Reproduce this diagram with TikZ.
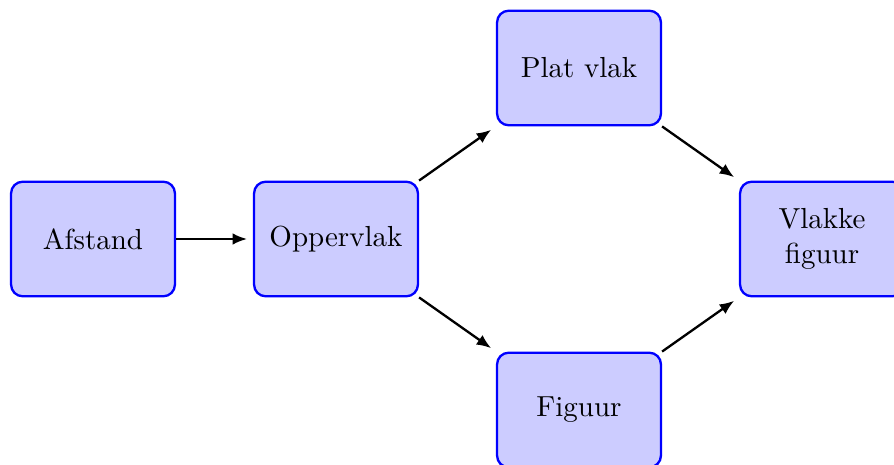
\documentclass[tikz,border=0pt]{standalone}
\usetikzlibrary{arrows.meta}
\begin{document}
\begin{tikzpicture}[x=0.3448pt,y=-0.3448pt,
  box/.style={draw=blue, fill=blue!20, thick, rounded corners=4pt, minimum width=56.5pt, minimum height=39.5pt, align=center, inner sep=2pt},
  conn/.style={-{Latex[length=5pt,width=4pt]}, thick, shorten >=2pt}]
\useasboundingbox (0,0) rectangle (894,465);
\node[box] (afstand) at (93,239) {Afstand};
\node[box] (opp) at (336,239) {Oppervlak};
\node[box] (plat) at (579,68) {Plat vlak};
\node[box] (fig) at (579,410) {Figuur};
\node[box] (vlak) at (822,239) {Vlakke\\figuur};
\draw[conn] (afstand.east) -- (opp.west);
\draw[conn] (opp.north east) -- (plat.south west);
\draw[conn] (opp.south east) -- (fig.north west);
\draw[conn] (plat.south east) -- (vlak.north west);
\draw[conn] (fig.north east) -- (vlak.south west);
\end{tikzpicture}
\end{document}
